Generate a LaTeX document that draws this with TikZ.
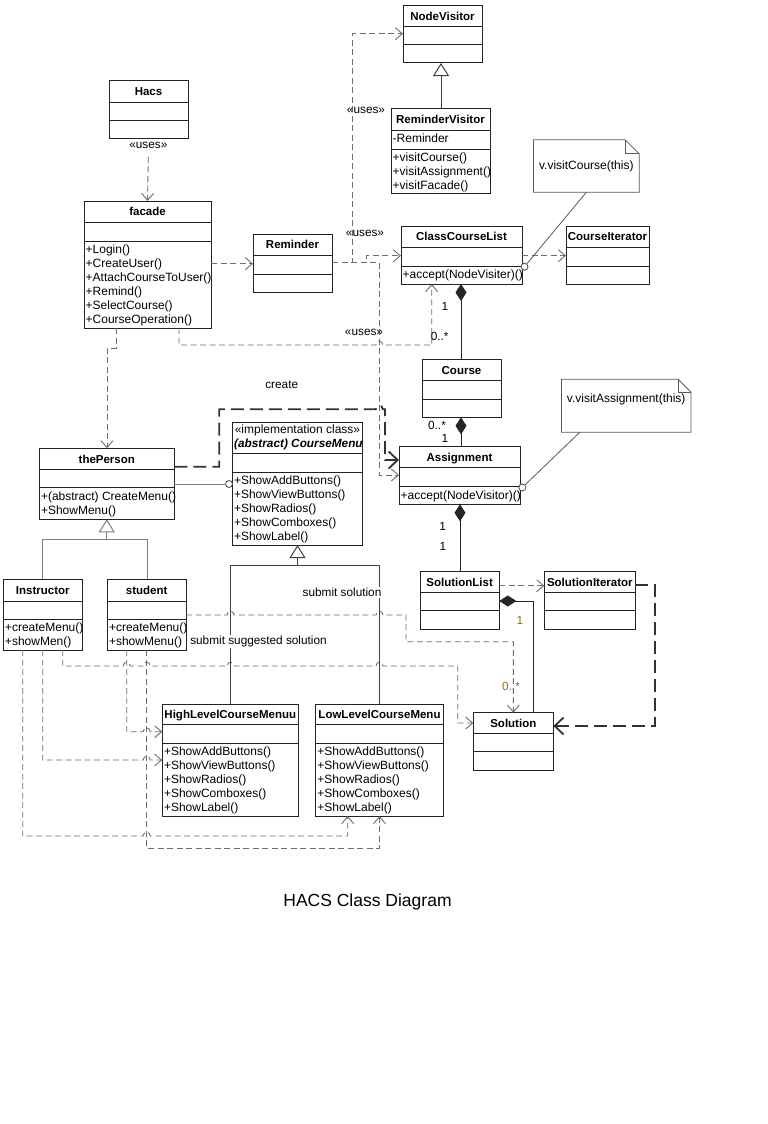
\documentclass[tikz,border=0pt]{standalone}
\usepackage{fontspec}
\setmainfont{Liberation Sans}
\usetikzlibrary{arrows.meta}
\definecolor{depgray}{HTML}{6E6E6E}
\definecolor{boxc}{HTML}{222222}
\definecolor{multc}{HTML}{A0660A}
\tikzset{
  box/.style={draw=boxc, line width=1pt, fill=white, inner sep=0pt, outer sep=0pt},
  boxline/.style={draw=boxc, line width=1pt},
  cname/.style={font=\bfseries\fontsize{11.5}{14}\selectfont, inner sep=0pt, text height=8.4pt, text depth=0pt},
  mtext/.style={font=\fontsize{12}{14}\selectfont, inner sep=0pt},
  lbl/.style={font=\fontsize{11.8}{14}\selectfont, inner sep=1pt},
  dep/.style={draw=depgray, line width=0.9pt, dash pattern=on 6pt off 3.5pt, -{Straight Barb[length=7pt,width=12pt]}},
  depthick/.style={draw=black!80, line width=1.8pt, dash pattern=on 13pt off 6pt, -{Straight Barb[length=9pt,width=17pt]}},
  genlight/.style={draw=black!50, line width=1pt},
  gendark/.style={draw=black!75, line width=1pt},
  gentip/.style={-{Triangle[open,length=13pt,width=16pt,fill=white]}},
  comp/.style={draw=black!85, line width=0.9pt, {Diamond[length=17pt,width=11pt]}-},
  lolli/.style={circle, draw=black!70, fill=white, line width=0.8pt, minimum size=7pt, inner sep=0pt},
  notebox/.style={inner sep=0pt},
  noteline/.style={draw=black!65, line width=0.8pt},
}
\newcommand\umlclass[9]{%
  \node[box, anchor=north west, minimum width={(#3-#2)*1pt}, minimum height={(#7-#4)*1pt}] (#1) at (#2,#4) {};
  \draw[boxline] (#2,#5) -- (#3,#5) (#2,#6) -- (#3,#6);
  \node[cname] (#1-t) at ({(#2+#3)/2},{(#4+#5)/2}) {#8};
  \foreach \m [count=\i] in {#9} {\node[mtext, anchor=base west] (#1-m\i) at ({#2+1.5},{#6+12.3+14*(\i-1)}) {\m};}
}
\newcommand\hop[2]{-- ({#1-3.5},#2) .. controls ({#1-3.5},{#2-5}) and ({#1+3.5},{#2-5}) .. ({#1+3.5},#2)}
\begin{document}
\begin{tikzpicture}[x=1pt, y=-1pt]
\useasboundingbox (0,0) rectangle (768,1124);
\fill[white] (0,0) rectangle (768,1124);

% classes
\umlclass{NodeVisitor}{403}{482}{6}{27}{45}{63}{NodeVisitor}{}
\umlclass{ReminderVisitor}{391}{490}{108.3}{130}{149}{193}{ReminderVisitor}{+visitCourse(),+visitAssignment(),+visitFacade()}
\node[mtext, anchor=base west] (rv-a) at (392.5,142) {-Reminder};
\umlclass{Hacs}{109}{188}{80}{102}{120}{138}{Hacs}{}
\umlclass{facade}{84}{211}{201}{222}{241}{328}{facade}{+Login(),+CreateUser(),+AttachCourseToUser(),+Remind(),+SelectCourse(),+CourseOperation()}
\umlclass{Reminder}{253}{332}{234}{255}{274}{292}{Reminder}{}
\umlclass{ClassCourseList}{401}{522}{226}{247}{266}{284}{ClassCourseList}{+accept(NodeVisiter)()}
\umlclass{CourseIterator}{566}{649}{226}{247}{266.5}{284}{CourseIterator}{}
\umlclass{Course}{422}{501}{359.3}{380.7}{399}{417.3}{Course}{}
\umlclass{Assignment}{399}{520}{446.7}{467.7}{486.7}{504.3}{Assignment}{+accept(NodeVisitor)()}
\umlclass{CourseMenu}{232.3}{362.7}{422.7}{453.3}{472.3}{545}{}{+ShowAddButtons(),+ShowViewButtons(),+ShowRadios(),+ShowComboxes(),+ShowLabel()}
\begin{scope}
  \clip (232.3,422.7) rectangle (362.7,453.3);
  \node[mtext] (cm-st) at (297.5,430) {«implementation class»};
  \node[inner sep=0pt, anchor=west, font=\bfseries\itshape\fontsize{11.8}{14}\selectfont] (cm-t) at (234,444.3) {(abstract) CourseMenu};
\end{scope}
\umlclass{thePerson}{39.3}{174.3}{448.3}{469.3}{487.7}{519.3}{thePerson}{+(abstract) CreateMenu(),+ShowMenu()}
\umlclass{Instructor}{3.3}{82.3}{579.3}{601}{619}{650}{Instructor}{+createMenu(),+showMen()}
\umlclass{student}{107.3}{186}{579.3}{601}{619}{650}{student}{+createMenu(),+showMenu()}
\umlclass{SolutionList}{420}{499.3}{571.7}{592.3}{610.7}{629}{SolutionList}{}
\umlclass{SolutionIterator}{544.3}{635.3}{571.7}{592.3}{610.7}{629}{SolutionIterator}{}
\umlclass{Solution}{473.3}{553.3}{712.7}{733.3}{751.7}{770.7}{Solution}{}
\umlclass{HighLevelCourseMenuu}{162.3}{298.3}{704}{724.3}{743.3}{816}{HighLevelCourseMenuu}{+ShowAddButtons(),+ShowViewButtons(),+ShowRadios(),+ShowComboxes(),+ShowLabel()}
\umlclass{LowLevelCourseMenu}{315.7}{443.3}{704}{724.3}{743.3}{816}{LowLevelCourseMenu}{+ShowAddButtons(),+ShowViewButtons(),+ShowRadios(),+ShowComboxes(),+ShowLabel()}

% notes
\node[notebox, minimum width=105.3pt, minimum height=52pt] (note1) at (586.35,166) {};
\draw[noteline, fill=white] (note1.north west) -- ([xshift=-14pt]note1.north east) -- ([yshift=-14pt]note1.north east) -- (note1.south east) -- (note1.south west) -- cycle;
\draw[noteline] ([xshift=-14pt]note1.north east) -- ([xshift=-14pt,yshift=-14pt]note1.north east) -- ([yshift=-14pt]note1.north east);
\node[mtext] (note1-t) at (586.35,166) {v.visitCourse(this)};
\node[notebox, minimum width=129pt, minimum height=52.7pt] (note2) at (626.2,405.7) {};
\draw[noteline, fill=white] (note2.north west) -- ([xshift=-13pt]note2.north east) -- ([yshift=-13pt]note2.north east) -- (note2.south east) -- (note2.south west) -- cycle;
\draw[noteline] ([xshift=-13pt]note2.north east) -- ([xshift=-13pt,yshift=-13pt]note2.north east) -- ([yshift=-13pt]note2.north east);
\node[mtext] (note2-t) at (626.2,399) {v.visitAssignment(this)};

% dependencies
\node[lbl, fill=white, inner sep=3pt] (usesA) at (148.3,145.5) {«uses»};
\draw[dep] ([yshift=-5pt]usesA.south) -- (facade.north);
\draw[dep] (facade.east |- 0,263.7) -- (Reminder.west |- 0,263.7);
\draw[dep] (Reminder.east |- 0,262.7) -- (366,262.7) -- (366,255.7) -- (ClassCourseList.west |- 0,255.7);
\draw[dep] (Reminder.east |- 0,262.7) -- (352.7,262.7) -- (352.7,33.7) -- (NodeVisitor.west |- 0,33.7);
\draw[dep] (Reminder.east |- 0,262.7) -- (379.3,262.7) -- (379.3,475) -- (Assignment.west |- 0,475);
\draw[dep] (179,0 |- facade.south) -- (179,345) \hop{379.3}{345} -- (431.7,345) -- (431.7,0 |- ClassCourseList.south);
\draw[dep] (116,0 |- facade.south) -- (116,348) -- (107,348) -- (107,0 |- thePerson.north);
\draw[dep] (ClassCourseList.east |- 0,255.7) -- (CourseIterator.west |- 0,255.7);
\draw[dep] (SolutionList.east |- 0,585.7) -- (SolutionIterator.west |- 0,585.7);
\draw[depthick] (SolutionIterator.east |- 0,585) -- (655,585) -- (655,726) -- (Solution.east |- 0,726);
\draw[depthick] (thePerson.east |- 0,466.7) -- (219.3,466.7) -- (219.3,409.3) \hop{379.3}{409.3} -- (385,409.3) -- (385,460) -- (Assignment.west |- 0,460);

\draw[dep] (student.east |- 0,615) \hop{230.5}{615} \hop{379.5}{615} -- (406,615) -- (406,641.7) -- (513.3,641.7) -- (513.3,0 |- Solution.north);
\draw[dep] (62.7,0 |- Instructor.south) -- (62.7,666) \hop{126.7}{666} \hop{146.7}{666} \hop{230.5}{666} \hop{379.5}{666} -- (457.7,666) -- (457.7,723) -- (Solution.west |- 0,723);
\draw[dep] (42.7,0 |- Instructor.south) -- (42.7,760) \hop{146.7}{760} -- (HighLevelCourseMenuu.west |- 0,760);
\draw[dep] (22.7,0 |- Instructor.south) -- (22.7,836) \hop{146.7}{836} -- (347.7,836) -- (347.7,0 |- LowLevelCourseMenu.south);
\draw[dep] (126.7,0 |- student.south) -- (126.7,731.7) \hop{146.7}{731.7} -- (HighLevelCourseMenuu.west |- 0,731.7);
\draw[dep] (146.7,0 |- student.south) -- (146.7,848) -- (379.5,848) -- (379.5,0 |- LowLevelCourseMenu.south);

% generalizations
\draw[gendark, gentip] (441,0 |- ReminderVisitor.north) -- (441,0 |- NodeVisitor.south);
\draw[genlight] (42.3,0 |- Instructor.north) -- (42.3,539.3) -- (147,539.3) -- (147,0 |- student.north);
\draw[genlight, gentip] (106.8,539.3) -- (106.8,0 |- thePerson.south);
\draw[gendark] (230.3,0 |- HighLevelCourseMenuu.north) -- (230.3,565) -- (379.5,565) -- (379.5,0 |- LowLevelCourseMenu.north);
\draw[gendark, gentip] (297.5,565) -- (297.5,0 |- CourseMenu.south);

% compositions
\draw[comp] (461,0 |- ClassCourseList.south) -- (461,0 |- Course.north);
\draw[comp] (461,0 |- Course.south) -- (461,0 |- Assignment.north);
\draw[comp] (460,0 |- Assignment.south) -- (460,0 |- SolutionList.north);
\draw[comp] (SolutionList.east |- 0,601) -- (533.3,601) -- (533.3,0 |- Solution.north);

% lollipops and note links
\node[lolli] (lp1) at (229,484) {};
\draw[genlight] (thePerson.east |- lp1) -- (lp1);
\node[lolli] (lp2) at (524.5,266.7) {};
\draw[noteline] (lp2) -- (note1.south);
\node[lolli] (lp3) at (522.3,487.5) {};
\draw[noteline] (lp3) -- ([xshift=18.3pt]note2.south west);

% labels
\node[lbl] (usesB) at (366,110) {«uses»};
\node[lbl] (usesC) at (365,233) {«uses»};
\node[lbl] (usesD) at (364,332.7) {«uses»};
\node[lbl] (createL) at (281.7,385) {create};
\node[lbl, fill=white] (subS) at (342,592.7) {submit solution};
\node[lbl, fill=white] (subSS) at (258.5,641.7) {submit suggested solution};
\node[lbl] (m1) at (445,306) {1};
\node[lbl] (m2) at (439.7,336) {0..*};
\node[lbl] (m3) at (437,425.7) {0..*};
\node[lbl] (m4) at (445,438) {1};
\node[lbl] (m5) at (442.7,526.7) {1};
\node[lbl] (m6) at (443,546.7) {1};
\node[lbl, text=multc] (m7) at (520,620) {1};
\node[lbl, text=multc] (m8) at (511,686.7) {0..*};

\node[font=\fontsize{17.5}{20}\selectfont, inner sep=0pt] (title) at (367.5,902) {HACS Class Diagram};
\end{tikzpicture}
\end{document}
